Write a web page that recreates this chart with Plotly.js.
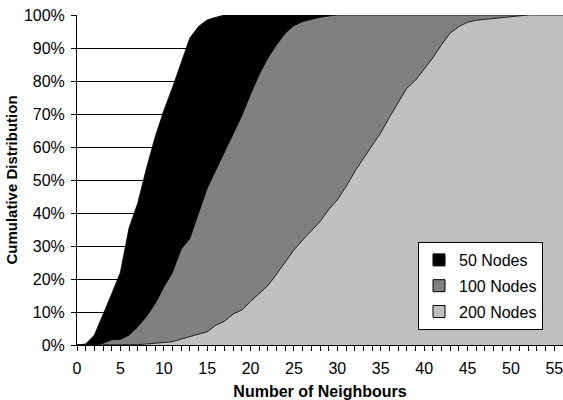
<!DOCTYPE html>
<html>
<head>
<meta charset="utf-8">
<script src="https://cdn.plot.ly/plotly-3.0.1.min.js"></script>
<style>html,body{margin:0;padding:0;background:#fff;}#chart{width:563px;height:400px;}</style>
</head>
<body>
<div id="chart"></div>
<script>
// Number of neighbours (x categories)
var neighbours = [];
for (var i = 0; i <= 56; i++) neighbours.push(i);

// Cumulative distribution (%) per network size
var nodes50 = [0, 0.3, 3, 9, 15.5, 22, 35.5, 43, 53.5, 63, 71, 78, 85.5, 93, 96.5, 98.5, 99.3, 100,
  100, 100, 100, 100, 100, 100, 100, 100, 100, 100, 100, 100, 100, 100, 100, 100, 100, 100, 100, 100,
  100, 100, 100, 100, 100, 100, 100, 100, 100, 100, 100, 100, 100, 100, 100, 100, 100, 100, 100];
var nodes100 = [0, 0, 0, 0.5, 1.6, 1.7, 3, 5.5, 8.6, 12.5, 17.5, 22, 29, 32.3, 40, 47.5, 53, 58.5, 64, 69.5,
  76, 82, 87, 91, 94.5, 96.8, 98, 98.7, 99.3, 99.7, 100, 100, 100, 100, 100, 100, 100, 100, 100, 100,
  100, 100, 100, 100, 100, 100, 100, 100, 100, 100, 100, 100, 100, 100, 100, 100, 100];
var nodes200 = [0, 0, 0, 0, 0, 0, 0, 0.1, 0.3, 0.6, 0.9, 1.0, 1.8, 2.5, 3.3, 4.0, 6.0, 7.2, 9.4, 10.6,
  13.2, 15.5, 18, 21.5, 25.2, 28.8, 31.8, 34.5, 37.4, 41, 44, 48, 52.5, 56.5, 60.5, 64.3, 69, 73.5, 77.8, 80.2,
  83.5, 87, 91, 94.5, 96.5, 97.8, 98.4, 98.7, 98.9, 99.1, 99.4, 99.7, 100, 100, 100, 100, 100];

var seriesNames = ['50 Nodes', '100 Nodes', '200 Nodes'];
var seriesColors = ['#000000', '#808080', '#c0c0c0'];
var seriesData = [nodes50, nodes100, nodes200];

var font = 'Liberation Sans, Arial, sans-serif';
var traces = [];
for (var s = 0; s < 3; s++) {
  traces.push({
    type: 'scatter', mode: 'lines', x: neighbours, y: seriesData[s],
    fill: 'tozeroy', fillcolor: seriesColors[s],
    line: {color: '#000000', width: 0.8},
    showlegend: false, hoverinfo: 'skip'
  });
}
for (var s = 0; s < 3; s++) {
  traces.push({
    type: 'bar', x: [null], y: [null], name: seriesNames[s], legendgroup: 'g' + s,
    marker: {color: seriesColors[s], line: {color: '#000000', width: 1}},
    showlegend: true
  });
}

var layout = {
  width: 563, height: 400,
  margin: {l: 77, r: 0, t: 15, b: 55, pad: 0},
  paper_bgcolor: '#ffffff', plot_bgcolor: '#ffffff',
  font: {family: font, size: 15, color: '#000000'},
  showlegend: true,
  legend: {
    x: (543 - 77) / 486, xanchor: 'right', y: 15 / 330, yanchor: 'bottom',
    bgcolor: '#ffffff', bordercolor: '#000000', borderwidth: 1,
    font: {family: font, size: 16, color: '#000000'},
    itemwidth: 30, tracegroupgap: 2, traceorder: 'grouped'
  },
  xaxis: {
    range: [0, 56], tick0: 0, dtick: 5,
    ticks: 'outside', ticklen: 5, tickcolor: '#000000', tickwidth: 1,
    minor: {dtick: 1, ticks: 'outside', ticklen: 5, tickcolor: '#000000', tickwidth: 1, showgrid: false},
    showline: true, linecolor: '#000000', linewidth: 1,
    showgrid: false, zeroline: false,
    tickfont: {family: font, size: 16}, ticklabelstandoff: 4, ticklabeloverflow: 'allow',
    title: {text: 'Number of Neighbours', font: {family: font, size: 16, weight: 700}, standoff: 10}
  },
  yaxis: {
    range: [0, 100], tick0: 0, dtick: 10, ticksuffix: '%',
    ticks: 'outside', ticklen: 5, tickcolor: '#000000', tickwidth: 1,
    showline: true, linecolor: '#000000', linewidth: 1,
    showgrid: true, gridcolor: '#000000', gridwidth: 1, zeroline: false,
    tickfont: {family: font, size: 16}, ticklabelstandoff: 3,
    title: {text: 'Cumulative Distribution', font: {family: font, size: 15, weight: 700}, standoff: 2}
  },
  bargap: 0
};

Plotly.newPlot('chart', traces, layout, {displayModeBar: false, staticPlot: true});
</script>
</body>
</html>
